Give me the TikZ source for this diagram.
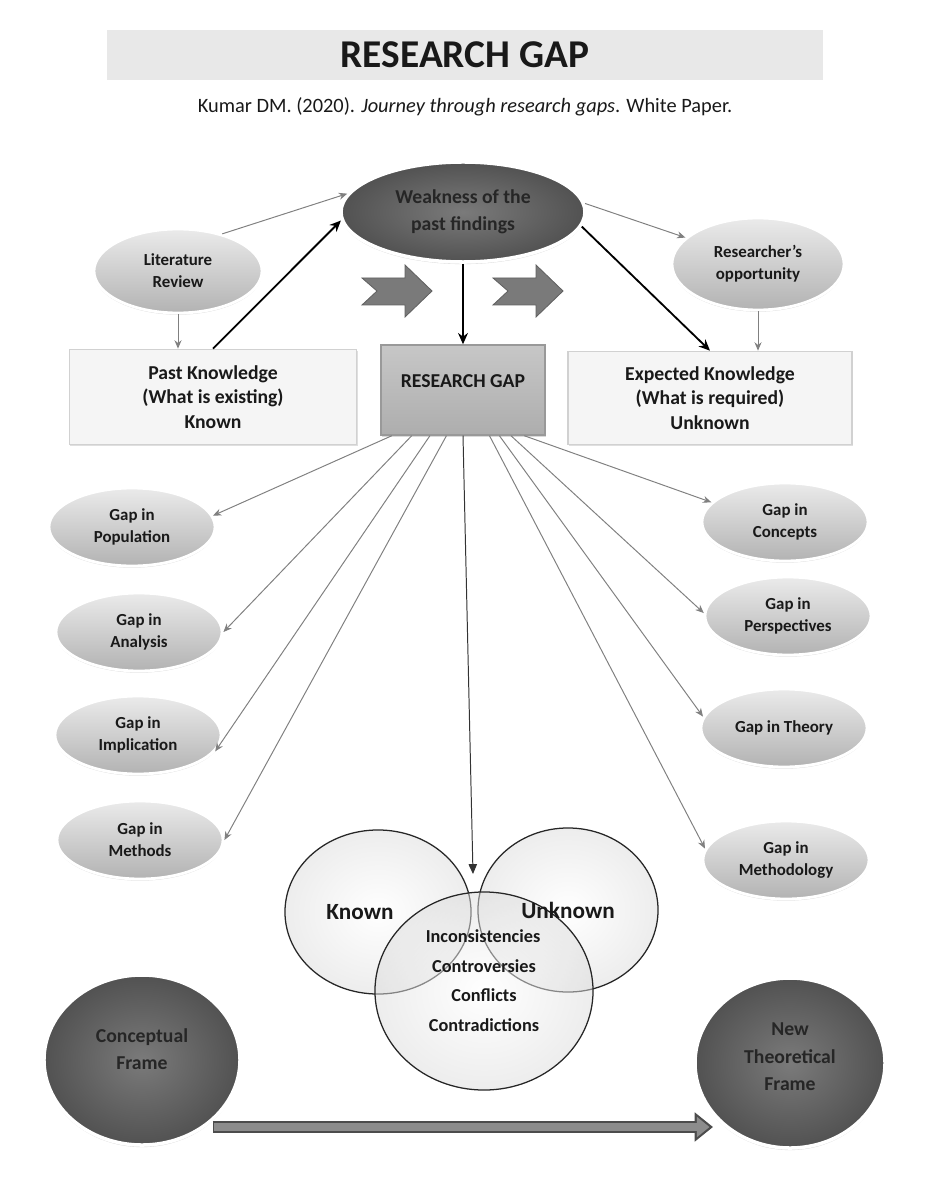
\documentclass[tikz,border=0pt]{standalone}
\usepackage{fontspec}
\setmainfont{Carlito}
\usepackage{xcolor}
\usepackage{tikz}
\usetikzlibrary {shapes.geometric}
\usetikzlibrary{
  arrows.meta,
  positioning,
  shadows,
  calc
}

\begin{document}
\begin{tikzpicture}
  [
    x=0.025cm, y=-0.025cm,
    every node/.style={align=center, text=black!90},
    gap/.style={ellipse, inner sep=0pt, minimum width=4.15cm, minimum height=1.95cm,
      top color=black!8, bottom color=black!30, draw=white, line width=2pt,
      drop shadow={shadow xshift=0pt, shadow yshift=-1.2pt, opacity=0.3},
      font=\fontsize{12}{15.5}\selectfont\bfseries},
    dark/.style={ellipse, inner sep=0pt, inner color=black!52, outer color=black!68,
      draw=white, line width=2.5pt,
      drop shadow={shadow xshift=0pt, shadow yshift=-1.5pt, opacity=0.3},
      text=black!85, font=\fontsize{14}{19.5}\selectfont\bfseries},
    knowbox/.style={rectangle, fill=black!4, draw=black!18, line width=1pt,
      drop shadow={shadow xshift=0.8pt, shadow yshift=-1.2pt, opacity=0.25},
      font=\fontsize{14}{17.5}\selectfont\bfseries},
    gapbox/.style={rectangle, top color=black!22, bottom color=black!32, draw=black!40,
      line width=1pt, drop shadow={shadow xshift=0.8pt, shadow yshift=-1.2pt, opacity=0.3},
      font=\fontsize{14}{17}\selectfont\bfseries},
    venn/.style={ellipse, draw=black!85, line width=0.9pt, inner color=white,
      outer color=black!14, fill opacity=0.5},
    vtext/.style={font=\fontsize{13}{15}\selectfont\bfseries},
    thin/.style={draw=black!50, line width=0.7pt, -{Stealth[length=6pt,width=5pt]}},
    bold/.style={draw=black, line width=1.3pt, -{Stealth[length=8pt,width=7pt]}},
    fan/.style={draw=black!50, line width=0.7pt, -{Stealth[length=6pt,width=5pt]}},
    chev/.style={fill=black!52, draw=black!62, line width=0.6pt},
  ]
  % \draw[help lines] (0,0) grid[step=50] (928,1200);
  \useasboundingbox (0,0) rectangle (928,1200);

  % heading
  \node [fill=black!9, minimum width=17.9cm, minimum height=1.25cm,
    font=\fontsize{28}{30}\selectfont\bfseries] (title) at (465,55) {RESEARCH GAP};
  \node [font=\fontsize{14.5}{16}\selectfont] (cite) at (465,107)
    {Kumar DM. (2020). \textit{Journey through research gaps}. White Paper.};

  % upper part
  \node [dark, minimum width=6.1cm, minimum height=2.5cm] (weak) at (463,212)
    {Weakness of the\\past findings};
  \node [gap, minimum width=4.2cm, minimum height=2.1cm] (lit) at (178,271)
    {Literature\\Review};
  \node [gap, minimum width=4.3cm, minimum height=2.3cm] (res) at (758,264)
    {Researcher’s\\opportunity};
  \node [knowbox, minimum width=7.18cm, minimum height=2.38cm] (past) at (213,397)
    {Past Knowledge\\(What is existing)\\Known};
  \node [gapbox, minimum width=4.1cm, minimum height=2.25cm, text depth=0.45cm] (rg) at (463,390)
    {RESEARCH GAP};
  \node [knowbox, minimum width=7.1cm, minimum height=2.33cm] (exp) at (710,398)
    {Expected Knowledge\\(What is required)\\Unknown};

  \foreach \dx in {0,131}
    \filldraw [chev, shift={(\dx,0)}] (362,278) -- (405,278) -- (405,265) -- (432,291)
      -- (405,317) -- (405,305) -- (362,305) -- (377,291) -- cycle;

  \draw [thin] (lit.40) -- (weak.171);
  \draw [thin] (weak.4) -- (res.160);
  \draw [thin] (lit.south) -- (lit.south |- past.north);
  \draw [thin] (res.south) -- (res.south |- exp.north);
  \draw [bold] (past.north) -- (weak.184);
  \draw [bold] (weak.-7) -- (exp.north);
  \draw [bold] (weak.south) -- (rg.north);

  % gaps
  \node [gap] (pop) at (132,527) {Gap in\\Population};
  \node [gap] (ana) at (139,632) {Gap in\\Analysis};
  \node [gap] (imp) at (138,735) {Gap in\\Implication};
  \node [gap] (met) at (140,840) {Gap in\\Methods};
  \node [gap] (con) at (785,522) {Gap in\\Concepts};
  \node [gap] (per) at (788,616) {Gap in\\Perspectives};
  \node [gap] (the) at (784,728) {Gap in Theory};
  \node [gap] (mdl) at (786,860) {Gap in\\Methodology};

  \draw [fan] ($(rg.south west)!0.07!(rg.south east)$) -- (pop.8);
  \draw [fan] ($(rg.south west)!0.19!(rg.south east)$) -- (ana.east);
  \draw [fan] ($(rg.south west)!0.30!(rg.south east)$) -- (imp.-12);
  \draw [fan] ($(rg.south west)!0.40!(rg.south east)$) -- (met.east);
  \draw [fan] ($(rg.south west)!0.66!(rg.south east)$) -- (mdl.172);
  \draw [fan] ($(rg.south west)!0.72!(rg.south east)$) -- (the.172);
  \draw [fan] ($(rg.south west)!0.79!(rg.south east)$) -- (per.178);
  \draw [fan] ($(rg.south west)!0.87!(rg.south east)$) -- (con.165);

  % venn
  \node [venn, minimum width=4.65cm, minimum height=4.1cm] (known) at (378,912) {};
  \node [venn, minimum width=4.5cm, minimum height=4.1cm] (unknown) at (568,910) {};
  \node [venn, minimum width=5.45cm, minimum height=4.95cm] (core) at (484,991) {};
  \coordinate (vtip) at (473,874);
  \draw [draw=black!80, line width=0.7pt, -{Triangle[length=7pt,width=6pt]}] (rg.south) -- (vtip);

  \node [font=\fontsize{16.5}{18}\selectfont\bfseries] (kn) at (360,912) {Known};
  \node [font=\fontsize{16.5}{18}\selectfont\bfseries] (un) at (568,910) {Unknown};
  \node [vtext] (v1) at (483,936) {Inconsistencies};
  \node [vtext] (v2) at (484,966) {Controversies};
  \node [vtext] (v3) at (484,995) {Conflicts};
  \node [vtext] (v4) at (484,1025) {Contradictions};

  % frames
  \node [dark, minimum width=4.9cm, minimum height=4.25cm, text depth=0.55cm] (cf) at (142,1060)
    {Conceptual\\Frame};
  \node [dark, minimum width=4.75cm, minimum height=4.25cm, text depth=0.3cm] (ntf) at (790,1063)
    {New\\Theoretical\\Frame};
  \coordinate (fstart) at (213,1127);
  \coordinate (fend) at (713,1127);
  \draw [line width=9pt, draw=black!70, -{Triangle[length=13pt,width=20pt]}] (fstart) -- (fend);
  \draw [line width=6pt, draw=black!45, shorten >=2.5pt,
    -{Triangle[length=9pt,width=14pt]}] ([xshift=1pt]fstart) -- (fend);
\end{tikzpicture}
\end{document}
